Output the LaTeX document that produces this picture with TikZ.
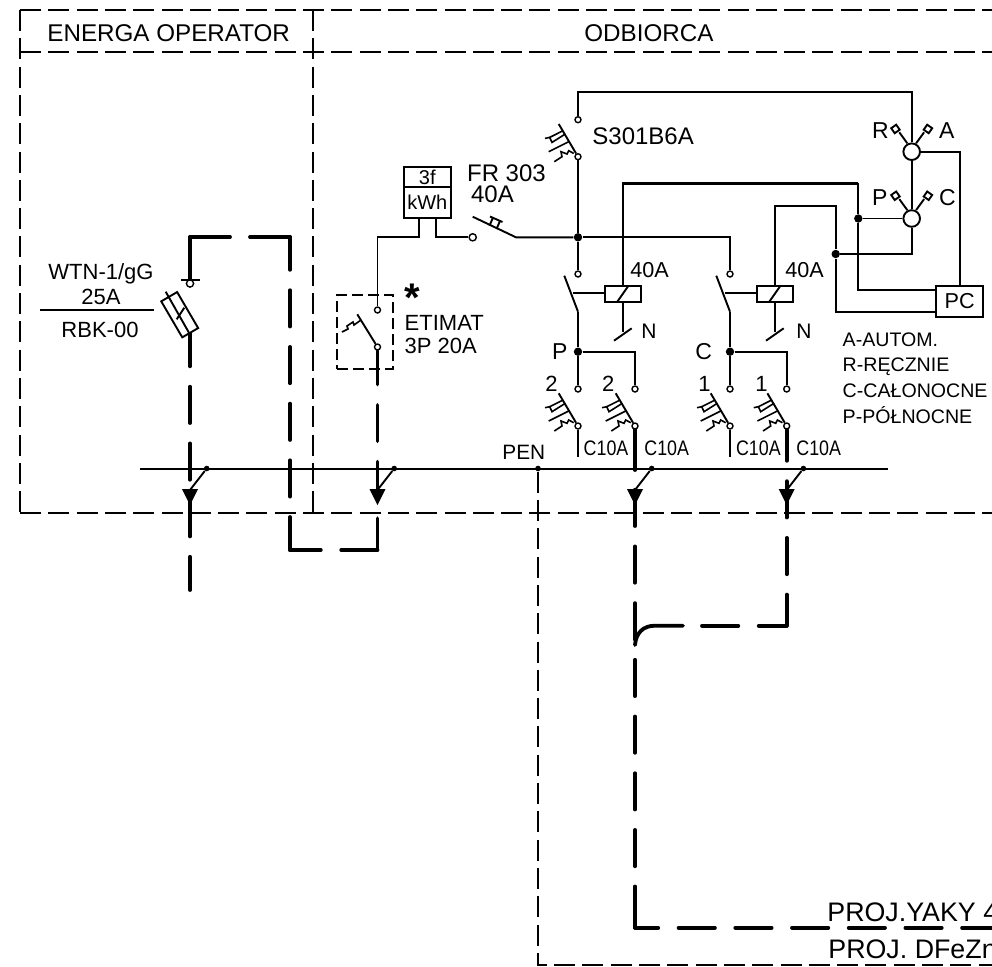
\documentclass[tikz,border=0pt]{standalone}
\usepackage{fontspec}
\setmainfont{Liberation Sans}
\newfontfamily\narrowfont[FakeStretch=0.85]{Liberation Sans}

\tikzset{
  wire/.style={line width=0.95pt},
  mainwire/.style={line width=1.25pt},
  frameline/.style={line width=0.8pt, dash pattern=on 10.5pt off 3.65pt},
  cable/.style={line width=1.9pt, line cap=round, dash pattern=on 18.15pt off 10.2pt},
  cablesolid/.style={line width=1.9pt, line cap=round},
  txt/.style={font=\fontsize{#1}{#1}\selectfont, inner sep=0pt, anchor=base west},
  ctxt/.style={font=\fontsize{#1}{#1}\selectfont, inner sep=0pt, anchor=base},
  terminal/.style={circle, draw, fill=white, line width=0.7pt, inner sep=0pt, minimum size=3pt},
  joint/.style={circle, fill=black, inner sep=0pt, minimum size=4.2pt},
  busdot/.style={circle, fill=black, inner sep=0pt, minimum size=2.8pt},
  pics/breaker/.style={code={
    \node[terminal] (-top) at (0,-37) {};
    \node[terminal] (-bot) at (0,0) {};
    \draw[wire] (-bot) -- (-19.3,-32.7);
    \draw[line width=0.8pt] (-15,-26) -- (-28.3,-19.3) -- (-26,-14.3) -- (-12.7,-22.7);
    \draw[line width=0.8pt] (-33,-18.3) -- (-28.3,-19.3);
    \draw[line width=0.8pt] (-9.3,-15) -- (-29.3,-5);
    \draw[line width=0.8pt] (-4.3,-3.3) -- (-9.3,-6) -- (-11,-2.7) -- (-17,-5) -- (-16,0) -- (-23.7,5);
  }},
  pics/contactor/.style={code={
    \node[terminal] (-top) at (0,0) {};
    \node[draw, wire, inner sep=0pt, minimum width=18pt, minimum height=7.85pt] (-coil) at (45,19.85) {};
    \node[joint] (-j) at (0,77.7) {};
    \coordinate (-hinge) at (0,37.7);
    \coordinate (-tie) at (-4.7,19.3);
    \coordinate (-n) at (45,57.7);
    \draw[wire] (-13.7,1.7) -- (-hinge);
    \draw[mainwire] (-hinge) -- (-j);
    \draw[wire] (-tie) -- (-tie -| -coil.west);
    \draw[wire] (39.3,27.7) -- (50.3,12);
    \draw[wire] (-coil) -- (-n);
    \draw[wire] (36,66.7) -- (53.7,54.3);
  }},
  pics/selector/.style 2 args={code={
    \node[circle, draw, wire, fill=white, inner sep=0pt, minimum size=8.3pt] (-c) at (0,0) {};
    \draw[wire] (-4.4,-8.4) -- (-12.4,-19.4);
    \draw[wire] (4.4,-8.4) -- (12.4,-19.4);
    \draw[wire] (-20.5,-23.5) -- (-15.5,-27) -- (-12,-22) -- (-17,-18.5) -- cycle;
    \draw[wire] (20.5,-23.5) -- (15.5,-27) -- (12,-22) -- (17,-18.5) -- cycle;
    \node[txt=11.5] (-l) at (-40,-13.4) {#1};
    \node[txt=11.5] (-r) at (27,-13.4) {#2};
  }},
  pics/tap/.style={code={
    \node[busdot] (-dot) at (16.7,0) {};
    \coordinate (-tip) at (0,21.5);
    \draw[wire] (-dot) -- (-tip);
    \fill (-8,20.5) -- (8,20.5) -- (0,36.5) -- cycle;
  }}
}

\begin{document}
\begin{tikzpicture}[x=0.5pt,y=-0.5pt]
  \clip (0,0) rectangle (992,966);

  % 1. Define the points of the frame
  \coordinate (fTL) at (20,10);
  \coordinate (fTR) at (992,10);
  \coordinate (fML) at (20,52);
  \coordinate (fMR) at (992,52);
  \coordinate (fBL) at (20,513);
  \coordinate (fBR) at (992,513);
  \coordinate (fT) at (313,10);
  \coordinate (fB) at (313,513);

  % 2. Frame and headings
  \draw[frameline] (fTL) -- (fTR);
  \draw[frameline] (fML) -- (fMR);
  \draw[frameline] (fBL) -- (fBR);
  \draw[frameline] (fTL) -- (fBL);
  \draw[frameline] (fT) -- (fB);
  \node[txt=12.1] (hEnerga) at (47,41) {ENERGA OPERATOR};
  \node[txt=12.1] (hOdb) at (584,41) {ODBIORCA};

  % 3. Bus bar and PEN line
  \coordinate (busL) at (140,468.5);
  \coordinate (busR) at (888,468.5);
  \coordinate (penC) at (538,965);
  \coordinate (penE) at (992,965);
  \draw[wire, line width=1pt] (busL) -- (busR);
  \node[busdot] (pen) at (538,468.5) {};
  \draw[frameline] (pen) -- (penC) -- (penE);
  \node[txt=10.4] (lPen) at (502,459) {PEN};

  % 4. Contactors and breakers
  \pic (ka1) at (578,274) {contactor};
  \pic (ka2) at (730,274) {contactor};
  \pic (q0) at (578,156.7) {breaker};
  \pic (q1) at (578,426) {breaker};
  \pic (q2) at (635,426) {breaker};
  \pic (q3) at (730,426) {breaker};
  \pic (q4) at (786.7,426) {breaker};
  \draw[mainwire] (ka1-j) -- (q1-top);
  \draw[wire] (ka1-j) -| (q2-top);
  \draw[mainwire] (ka2-j) -- (q3-top);
  \draw[wire] (ka2-j) -| (q4-top);
  \coordinate (q1e) at (578,457.3);
  \coordinate (q3e) at (730,457.3);
  \draw[wire] (q1-bot) -- (q1e);
  \draw[mainwire] (q3-bot) -- (q3e);
  \foreach \n/\x in {a/583.3, b/644, c/735.7, d/796}
    \node[txt=10.5] (c10\n) at (\x,455) {\narrowfont C10A};
  \node[txt=11.5] (lP) at (551.7,359.3) {P};
  \node[txt=11.5] (lC) at (695,359.3) {C};
  \node[txt=11] (l2a) at (545,391.7) {2};
  \node[txt=11] (l2b) at (601.7,391.7) {2};
  \node[txt=11] (l1a) at (698,391.7) {1};
  \node[txt=11] (l1b) at (755,391.7) {1};
  \node[txt=10.8] (l40a) at (630,277) {40A};
  \node[txt=10.8] (l40b) at (785,277) {40A};
  \node[txt=10.5] (lNa) at (641,338) {N};
  \node[txt=10.5] (lNb) at (796,338) {N};
  \node[txt=12] (lS) at (592,144) {S301B6A};

  % 5. Supply side: meter, main switch, junction
  \node[draw, wire, inner sep=0pt, minimum width=23.35pt, minimum height=9.85pt, font=\fontsize{10}{10}\selectfont] (m3f) at (427.3,176.9) {3f};
  \node[draw, wire, inner sep=0pt, minimum width=23.35pt, minimum height=15.5pt, font=\fontsize{10}{10}\selectfont] (mkwh) at (427.3,202.2) {kWh};
  \node[terminal, minimum size=3.6pt] (frIn) at (472.7,237.3) {};
  \node[joint] (j1) at (578,237.3) {};
  \coordinate (frHinge) at (516,237.3);
  \coordinate (frTip) at (472.7,216.7);
  \coordinate (mL) at (419.3,217.7);
  \coordinate (mR) at (436,217.7);
  \coordinate (mLb) at (419.3,237.3);
  \coordinate (mRb) at (436,237.3);
  \coordinate (etUp) at (377.5,237.3);
  \draw[wire] (frTip) -- (frHinge) -- (j1);
  \draw[wire] (489.5,225.7) -- (493,217.5) (496.5,229) -- (500,221) (490,216.5) -- (502.5,222);
  \draw[mainwire] (q0-bot) -- (j1);
  \draw[mainwire] (j1) -- (ka1-top);
  \draw[wire] (j1) -| (ka2-top);
  \draw[wire] (mR) -- (mRb) -- (frIn);
  \node[txt=12] (lFr) at (466.7,181) {FR 303};
  \node[txt=12] (lFrA) at (470.7,202) {40A};

  % 6. Selectors and PC
  \pic (sel1) at (911.7,151.7) {selector={R}{A}};
  \pic (sel2) at (911.7,218.5) {selector={P}{C}};
  \node[draw, wire, inner sep=0pt, minimum width=23.65pt, minimum height=15.8pt, font=\fontsize{10.8}{10.8}\selectfont] (pc) at (959.7,301.5) {PC};
  \node[joint] (j3) at (858.3,218.5) {};
  \node[joint] (j4) at (835.7,254) {};
  \coordinate (n1) at (578,91.7);
  \coordinate (n2) at (911.7,91.7);
  \coordinate (n3) at (911.7,254);
  \coordinate (n4) at (623,183.3);
  \coordinate (n5) at (858.3,183.3);
  \coordinate (n6) at (858.3,290);
  \coordinate (n7) at (936,290);
  \coordinate (n8) at (775,205.7);
  \coordinate (n9) at (835.7,205.7);
  \coordinate (n10) at (835.7,311.7);
  \coordinate (n11) at (936,311.7);
  \draw[wire] (q0-top) -- (n1) -- (n2) -- (sel1-c);
  \draw[wire] (sel1-c) -- (sel2-c);
  \draw[wire] (sel1-c) -| (pc);
  \draw[wire] (sel2-c) -- (n3) -- (j4);
  \draw[wire] (j3) -- (sel2-c);
  \draw[mainwire] (ka1-coil) -- (n4) -- (n5);
  \draw[wire] (n5) -- (j3) -- (n6) -- (n7);
  \draw[wire] (ka2-coil) -- (n8) -- (n9) -- (j4) -- (n10) -- (n11);
  \node[txt=9.8] (tA) at (842.3,346) {A-AUTOM.};
  \node[txt=9.8] (tR) at (842.3,371) {R-RĘCZNIE};
  \node[txt=9.8] (tC) at (842.3,397) {C-CAŁONOCNE};
  \node[txt=9.8] (tP) at (842.3,423) {P-PÓŁNOCNE};

  % 7. ETIMAT switch
  \node[draw, line width=0.8pt, dash pattern=on 5.5pt off 2.5pt, inner sep=0pt, minimum width=28pt, minimum height=37pt] (etBox) at (365,332) {};
  \node[terminal] (et1) at (377.5,310) {};
  \node[terminal] (et2) at (377.5,347) {};
  \coordinate (etB) at (357.3,314.3);
  \draw[wire] (mL) -- (mLb) -- (etUp) -- (et1);
  \draw[wire] (et2) -- (etB);
  \draw[line width=0.8pt] (361,320) -- (354,325) -- (353,322) -- (347,326) -- (348,329) -- (342,332);
  \node[txt=20, font=\bfseries\fontsize{20}{20}\selectfont] (lStar) at (404,311) {*};
  \node[txt=11] (lEt) at (404.3,330.7) {ETIMAT};
  \node[txt=11] (lEtA) at (404.3,353.3) {3P 20A};

  % 8. Fuse with its labels
  \coordinate (c1) at (190,237);
  \coordinate (c2) at (290,237);
  \coordinate (c3) at (290,550);
  \coordinate (c4) at (377.5,550);
  \coordinate (c5) at (190,280);
  \coordinate (c6) at (190,330);
  \coordinate (c7) at (190,590);
  \coordinate (tk1) at (181,280);
  \coordinate (tk2) at (200,280);
  \draw[cablesolid] (c1) -- (c5);
  \draw[cable, dash pattern=on 20pt off 10pt] (c2) -- (c1);
  \draw[cable, dash phase=1.75pt] (c2) -- (c3);
  \draw[cable] (c4) -- (c3);
  \draw[cable, dash phase=1.25pt] (et2) -- (c4);
  \draw[cable] (c6) -- (c7);
  \node[terminal, minimum size=3.6pt] (fuTop) at (190,283.5) {};
  \draw[wire] (tk1) -- (tk2);
  \node[draw, wire, fill=white, inner sep=0pt, minimum width=20.85pt, minimum height=9.2pt, rotate=-59.7] (fuse) at (179.7,314.7) {};
  \draw[wire] (165.7,291.7) -- (189.3,333.3);
  \draw[wire] (176.7,319.3) -- (184.3,307.7);
  \node[ctxt=11] (lW) at (101,279) {WTN-1/gG};
  \node[ctxt=11] (lA) at (101,304) {25A};
  \node[ctxt=11] (lR) at (100,337) {RBK-00};
  \coordinate (rL) at (40,310);
  \coordinate (rR) at (154,310);
  \draw[wire] (rL) -- (rR);

  % 9. Cables to the right
  \coordinate (d1) at (635,470);
  \coordinate (d2) at (635,433);
  \coordinate (d3) at (635,927.7);
  \coordinate (d4) at (635,886.6);
  \coordinate (d5) at (992,927.7);
  \coordinate (e1) at (786.7,625.7);
  \coordinate (e2) at (702,625.7);
  \coordinate (e3) at (683,625.7);
  \coordinate (e4) at (655,625.7);
  \coordinate (e5) at (635,645);
  \draw[cablesolid] (q2-bot) -- (d1);
  \draw[cable] (d2) -- (d3);
  \draw[cablesolid] (d4) -- (d3);
  \draw[cable, dash phase=6.55pt] (d3) -- (d5);
  \draw[cable, dash phase=2.6pt] (q4-bot) -- (e1);
  \draw[cable, dash phase=4.15pt] (e1) -- (e2);
  \draw[cablesolid] (e3) -- (e4) .. controls (643,625.7) and (636,633) .. (e5);

  % 10. Taps on the bus bar
  \pic at (190,468.5) {tap};
  \pic at (377.5,468.5) {tap};
  \pic at (635,468.5) {tap};
  \pic at (786.7,468.5) {tap};

  % 11. Cable names
  \node[txt=13.4] (lYaky) at (827,921) {PROJ.YAKY 4};
  \node[txt=13.4] (lDfe) at (828,958) {PROJ. DFeZn};
\end{tikzpicture}
\end{document}
